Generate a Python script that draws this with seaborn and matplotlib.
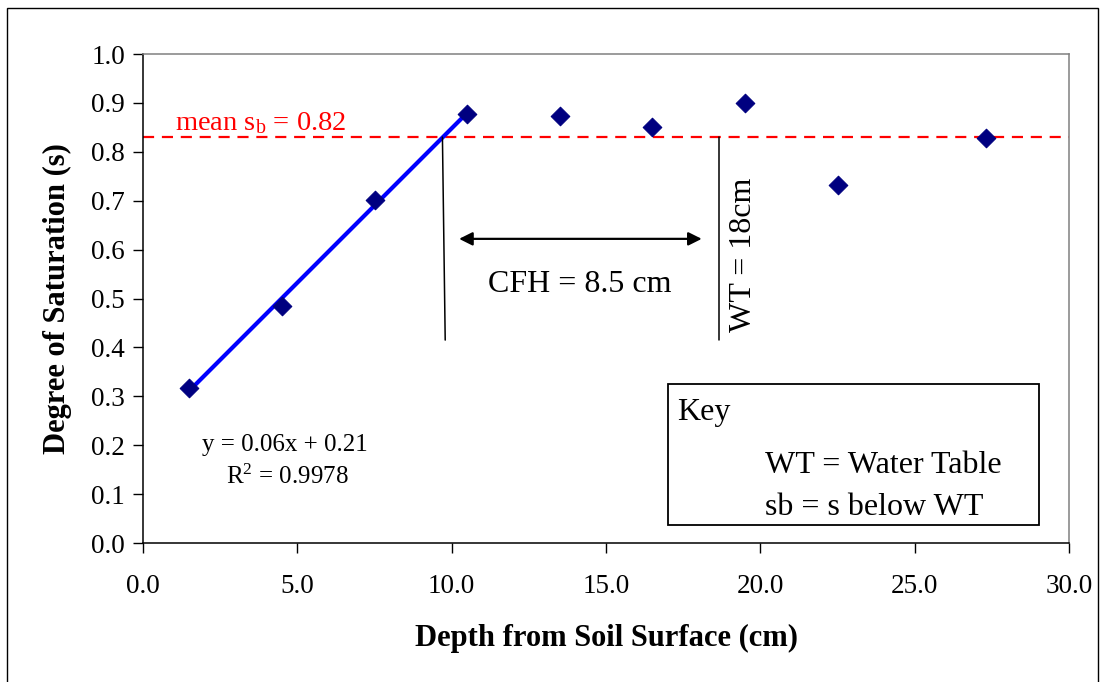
# Degree of saturation vs depth, with capillary fringe height markup

import numpy as np
import pandas as pd
import seaborn as sns
import matplotlib.pyplot as plt
from matplotlib.patches import Rectangle

depth = [1.5, 4.5, 7.5, 10.5, 13.5, 16.5, 19.5, 22.5, 27.3]
saturation = [0.318, 0.485, 0.702, 0.877, 0.873, 0.851, 0.900, 0.732, 0.828]
n_fit = 4          # points above the water table used for the trend line
mean_sb = 0.83     # where the dashed mean line sits
cfh_top = 9.7      # depth where trend meets mean line
wt_depth = 18.66   # water table depth marker
line_bottom = 0.415
arrow_y = 0.622

x_ticks = np.arange(0, 30.1, 5)
y_ticks = np.arange(0, 1.01, 0.1)

sns.set_theme(style='white')
plt.rcParams['font.family'] = ['Liberation Serif', 'DejaVu Serif']
plt.rcParams['mathtext.fontset'] = 'custom'
plt.rcParams['mathtext.rm'] = 'Liberation Serif'
plt.rcParams['mathtext.it'] = 'Liberation Serif:italic'
for key in ['text.color', 'axes.labelcolor', 'xtick.color', 'ytick.color']:
    plt.rcParams[key] = 'black'

data = pd.DataFrame({'depth': depth, 'sat': saturation})

fig = plt.figure(figsize=(11.06, 6.82), dpi=100)
ax = fig.add_axes([0.1293, 0.2038, 0.8373, 0.717])

ax.axhline(mean_sb, color='red', lw=1.6, ls=(0, (5, 3.5)), zorder=1)

sns.regplot(data=data.iloc[:n_fit], x='depth', y='sat', ax=ax, scatter=False,
            ci=None, truncate=True, line_kws=dict(color='#0000FF', lw=3))
sns.scatterplot(data=data, x='depth', y='sat', ax=ax, marker='D', s=90,
                color='#000080', edgecolor='#000080', zorder=5)

ax.plot([cfh_top, cfh_top + 0.09], [mean_sb, line_bottom], color='black', lw=1.1)
ax.plot([wt_depth, wt_depth], [mean_sb, line_bottom], color='black', lw=1.1)
ax.annotate('', xy=(10.24, arrow_y), xytext=(18.1, arrow_y),
            arrowprops=dict(arrowstyle='<|-|>', color='black', lw=1.6,
                            mutation_scale=20, shrinkA=0, shrinkB=0))

ax.text(1.04, 0.845, r'mean s$_{\rm b}$ = 0.82', color='red', fontsize=20.5,
        va='baseline', ha='left')
ax.text(14.16, 0.528, 'CFH = 8.5 cm', fontsize=23, ha='center', va='center')
ax.text(19.44, 0.589, 'WT = 18cm', fontsize=23, ha='center', va='center',
        rotation=90)

ax.text(0.1533, 0.2004, 'y = 0.06x + 0.21', fontsize=18, ha='center',
        va='center', transform=ax.transAxes)
ax.text(0.1555, 0.135, r'R$^{2}$ = 0.9978', fontsize=18, ha='center',
        va='center', transform=ax.transAxes)

ax.add_patch(Rectangle((0.567, 0.0368), 0.4006, 0.2882, transform=ax.transAxes,
                       fill=False, ec='black', lw=1.3, zorder=6))
ax.text(0.5767, 0.266, 'Key', fontsize=23, ha='left', va='center',
        transform=ax.transAxes)
ax.text(0.6717, 0.1595, 'WT = Water Table', fontsize=23, ha='left',
        va='center', transform=ax.transAxes)
ax.text(0.6717, 0.0716, 'sb = s below WT', fontsize=23, ha='left',
        va='center', transform=ax.transAxes)

ax.set_xlim(0, 30)
ax.set_ylim(0, 1.0)
ax.set_xticks(x_ticks)
ax.set_xticklabels([f'{v:.1f}' for v in x_ticks])
ax.set_yticks(y_ticks)
ax.set_yticklabels([f'{v:.1f}' for v in y_ticks])
ax.tick_params(axis='both', labelsize=19.5, length=7, width=1, direction='out')
ax.tick_params(axis='x', pad=15)
ax.tick_params(axis='y', pad=6)
ax.tick_params(bottom=True, left=True)

ax.set_xlabel('Depth from Soil Surface (cm)', fontsize=22, fontweight='bold',
              labelpad=18)
ax.set_ylabel('Degree of Saturation (s)', fontsize=22, fontweight='bold',
              labelpad=14)

for side in ['left', 'bottom']:
    ax.spines[side].set_color('black')
    ax.spines[side].set_linewidth(1.1)
for side in ['top', 'right']:
    ax.spines[side].set_color('#808080')
    ax.spines[side].set_linewidth(1.1)

fig.patches.append(Rectangle((7 / 1106, -0.02), 1091 / 1106, 674 / 682 + 0.02,
                             transform=fig.transFigure, fill=False,
                             ec='black', lw=1))

fig.savefig('out.png', dpi=100)
